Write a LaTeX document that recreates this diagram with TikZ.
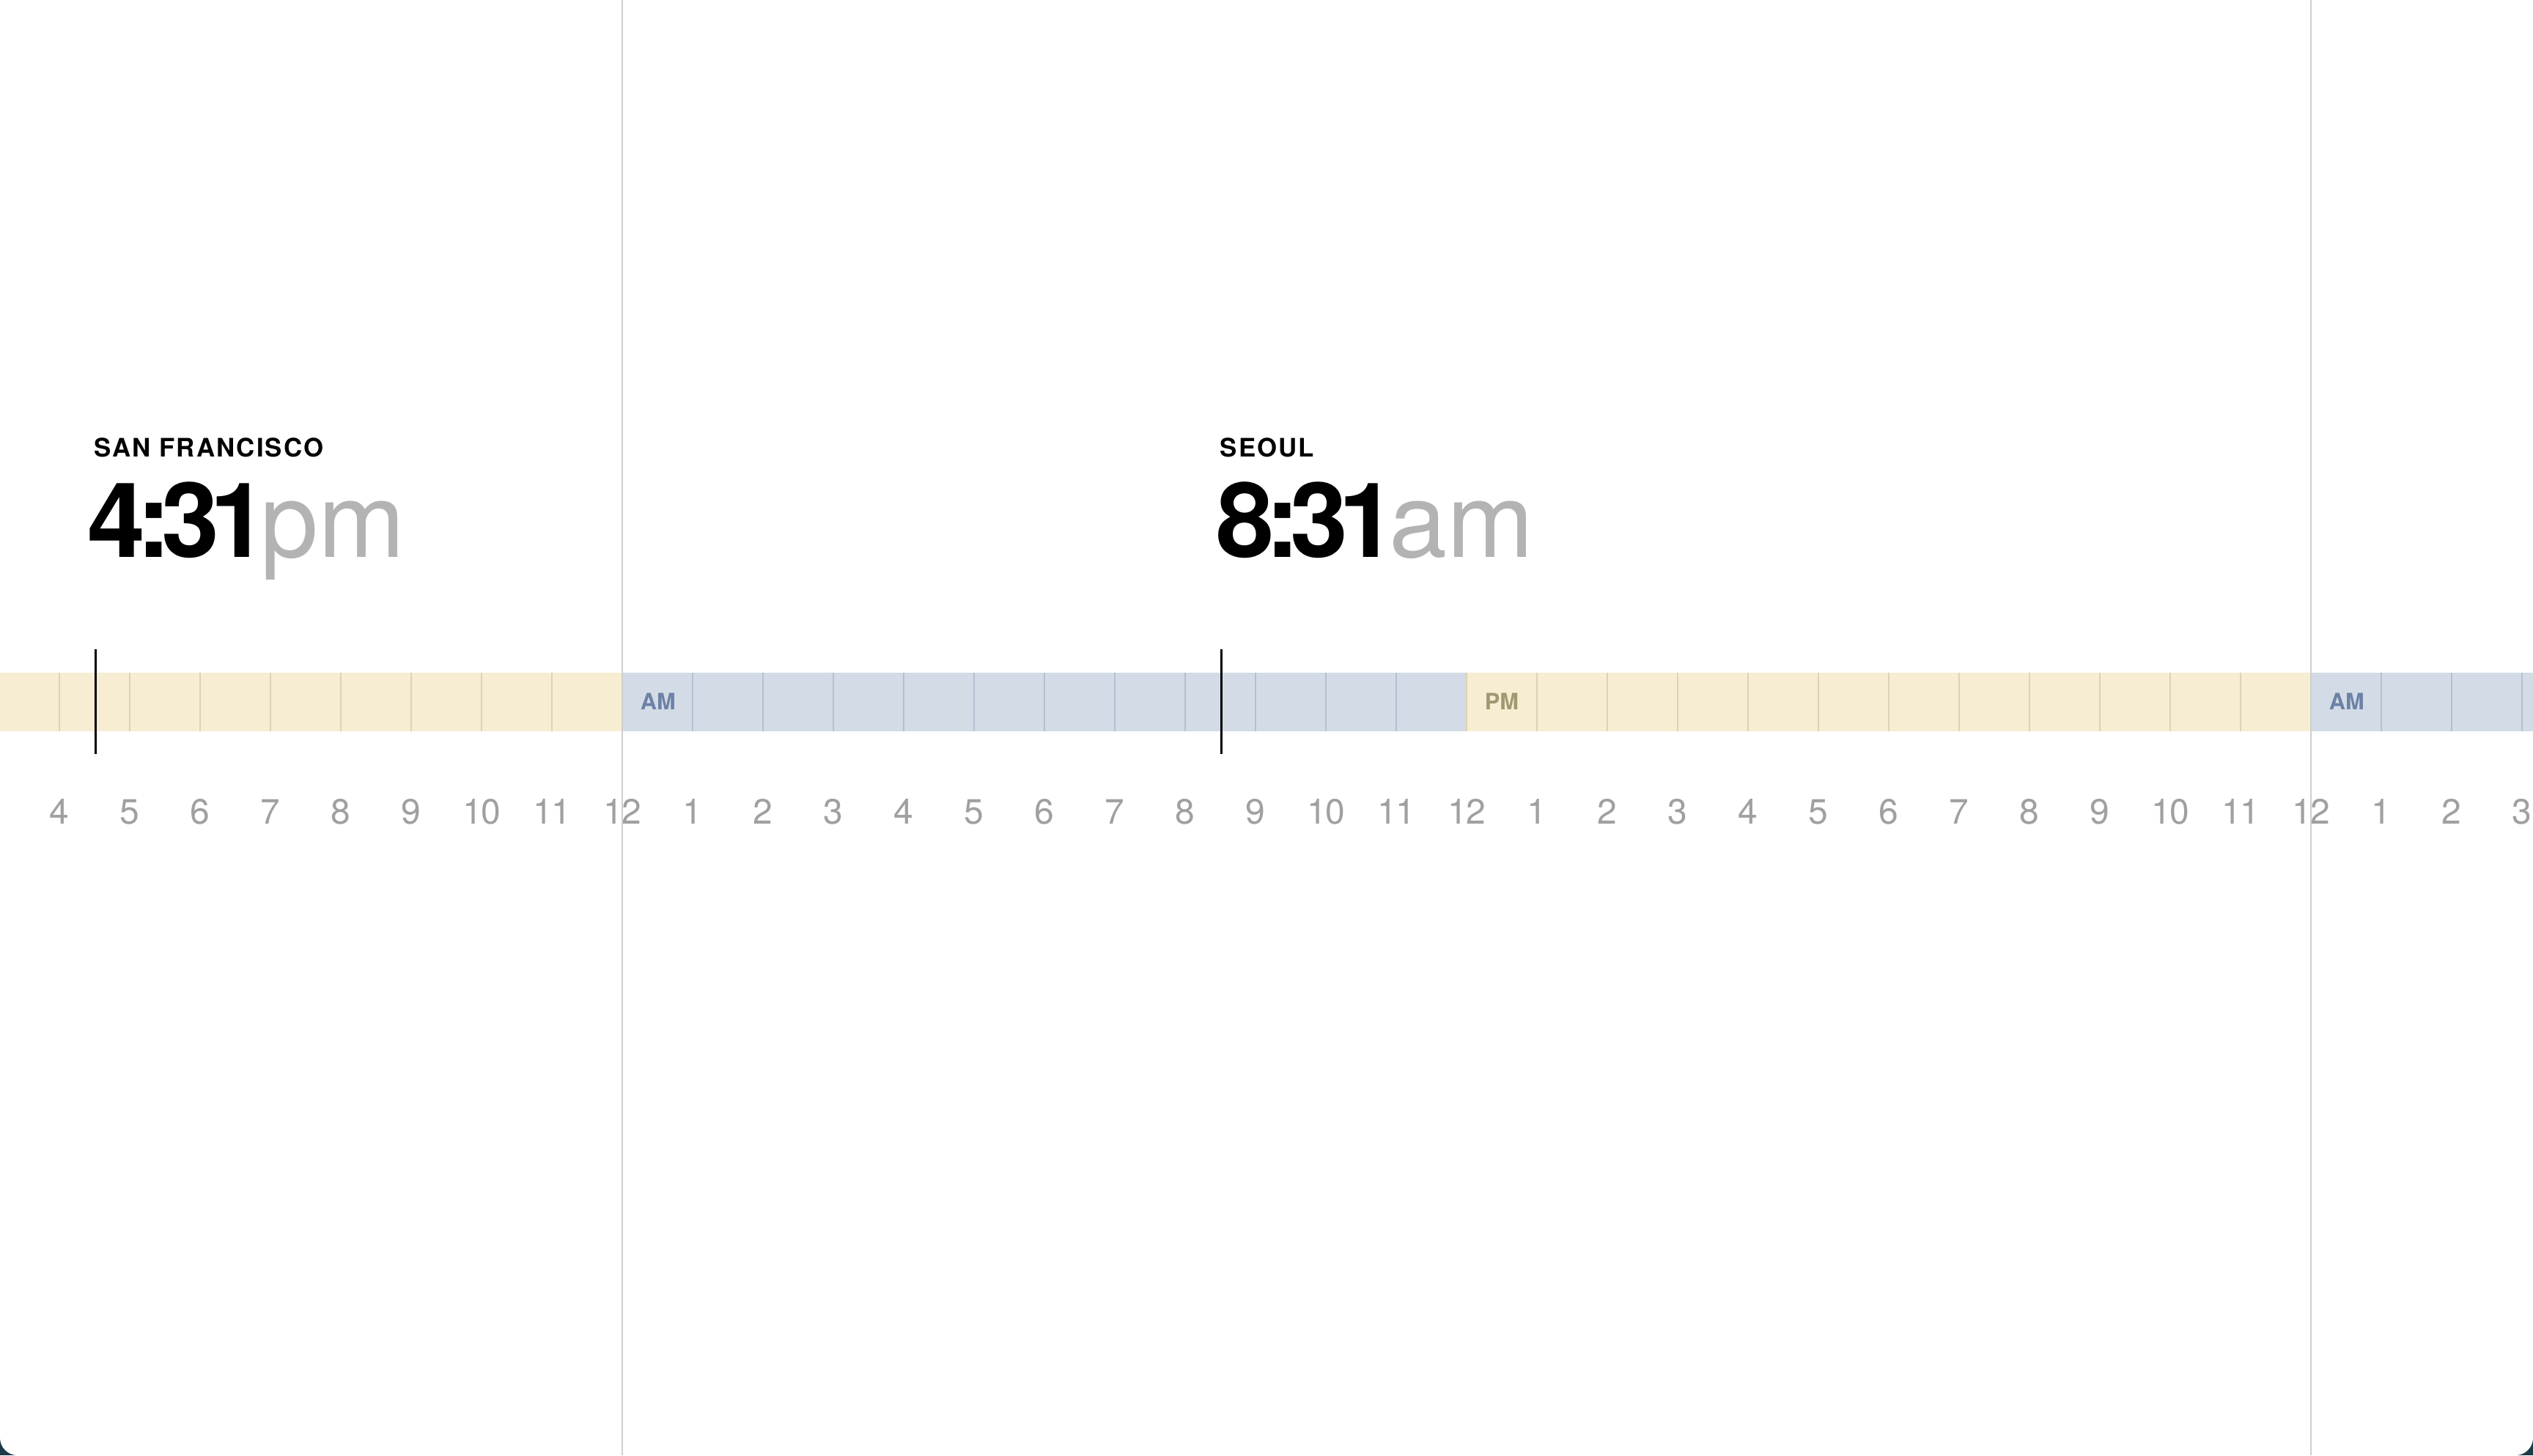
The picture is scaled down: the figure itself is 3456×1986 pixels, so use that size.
\documentclass[tikz,border=0pt]{standalone}
\usepackage{fontspec}
\setmainfont{TeX Gyre Heros}
\newfontfamily\cityfont[LetterSpace=6]{TeX Gyre Heros}
\newfontfamily\clockfont[LetterSpace=-9]{TeX Gyre Heros}
\newfontfamily\hourfont[LetterSpace=-4]{TeX Gyre Heros}
\usetikzlibrary{positioning, calc}
\usepackage{xcolor}
\definecolor{pmfill}{HTML}{F6EDD3}
\definecolor{pmline}{HTML}{DDD3B3}
\definecolor{pmtext}{HTML}{A09870}
\definecolor{amfill}{HTML}{D3DBE6}
\definecolor{amline}{HTML}{B3C0D3}
\definecolor{amtext}{HTML}{6C81A6}
\definecolor{hourgray}{HTML}{A0A0A0}
\definecolor{suffixgray}{HTML}{B3B3B3}
\definecolor{daygray}{HTML}{CFCFCF}
\definecolor{frame}{HTML}{1C3A47}
\tikzset{
    cityname/.style = {anchor=base west, inner sep=0pt, font=\cityfont\bfseries\fontsize{8.7}{10}\selectfont},
    bigtime/.style = {anchor=base west, inner sep=0pt, font=\fontsize{35.5}{40}\selectfont},
    hourlabel/.style = {anchor=base, inner sep=0pt, text=hourgray, font=\hourfont\fontsize{12}{14}\selectfont},
    halftag/.style = {anchor=base west, inner sep=0pt, font=\bfseries\fontsize{7.7}{9}\selectfont},
    nowline/.style = {line width=0.9pt, black},
    dayline/.style = {line width=0.5pt, daygray},
    hourline/.style = {line width=0.5pt}
}

\begin{document}
\begin{tikzpicture}[x=0.25pt, y=-0.25pt]
\useasboundingbox (0,0) rectangle (3456,1986);
% window
\fill[frame] (0,0) rectangle (3456,1986);
\fill[white] (0,0) rectangle (3456,1962);
\fill[white] (24,1962) rectangle (3432,1986);
\fill[white] (24,1962) circle[radius=24];
\fill[white] (3432,1962) circle[radius=24];

% day bands
\fill[pmfill] (0,918) rectangle (849,998);
\fill[amfill] (849,918) rectangle (2001,998);
\fill[pmfill] (2001,918) rectangle (3153,998);
\fill[amfill] (3153,918) rectangle (3456,998);

% hour ticks and numbers
\foreach \k in {-8,...,27}{
  \pgfmathtruncatemacro\seg{mod(floor((\k+24)/12),2)}
  \ifnum\seg=1 \def\lc{pmline}\else\def\lc{amline}\fi
  \draw[hourline, \lc] ({849+96*\k},918) -- ({849+96*\k},998);
  \pgfmathtruncatemacro\h{mod(\k+24,12)}
  \ifnum\h=0 \def\h{12}\fi
  \node (hr\k) [hourlabel] at ({849+96*\k},1124) {\h};
}

\node (am1) [halftag, text=amtext] at (873,968) {AM};
\node (pm1) [halftag, text=pmtext] at (2025,968) {PM};
\node (am2) [halftag, text=amtext] at (3177,968) {AM};

% midnight lines
\draw[dayline] (849,0) -- (849,1986);
\draw[dayline] (3153,0) -- (3153,1986);

% current time
\coordinate (sfnow) at (130.6,886);
\coordinate (seoulnow) at (1666.6,886);
\draw[nowline] (sfnow) -- ++(0,143);
\draw[nowline] (seoulnow) -- ++(0,143);

% cities
\node (sf) [cityname] at (128,623) {SAN FRANCISCO};
\node (sftime) [bigtime] at ($(sf.base west)+(-9,137)$) {{\clockfont\bfseries 4:31}\kern-2.6pt{\color{suffixgray}pm}};
\node (seoul) [cityname] at (1664,623) {SEOUL};
\node (seoultime) [bigtime] at ($(seoul.base west)+(-5,137)$) {{\clockfont\bfseries 8:31}\kern-2.6pt{\color{suffixgray}am}};
\end{tikzpicture}
\end{document}
